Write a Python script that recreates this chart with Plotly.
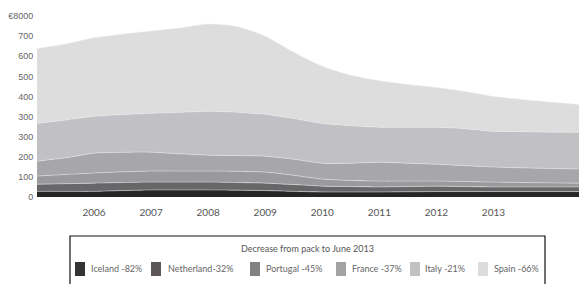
import plotly.graph_objects as go

# ---- data ----
years = [2005.0, 2005.5, 2006.0, 2006.5, 2007.0, 2007.5, 2008.0, 2008.5, 2009.0, 2009.5,
         2010.0, 2010.5, 2011.0, 2011.5, 2012.0, 2012.5, 2013.0, 2013.5, 2014.5]
iceland = [28, 28, 28, 32, 35, 35, 35, 34, 32, 28, 25, 25, 25, 26, 27, 27, 27, 27, 27]
netherland = [36, 38, 41, 40, 39, 39, 39, 38, 37, 34, 29, 27, 25, 26, 27, 25, 23, 23, 23]
portugal = [40, 46, 50, 53, 55, 55, 55, 56, 55, 46, 35, 30, 29, 27, 25, 25, 24, 22, 19]
france = [74, 83, 99, 97, 94, 86, 79, 78, 79, 80, 79, 86, 94, 89, 84, 79, 75, 73, 70]
italy = [188, 188, 183, 188, 193, 206, 218, 216, 208, 202, 198, 187, 174, 179, 184, 184, 178, 180, 183]
spain = [372, 378, 391, 400, 409, 419, 434, 426, 389, 330, 284, 250, 231, 213, 198, 185, 173, 160, 138]

series_names = ["Iceland", "Netherland", "Portugal", "France", "Italy", "Spain"]
series_values = [iceland, netherland, portugal, france, italy, spain]
legend_labels = ["Iceland -82%", "Netherland-32%", "Portugal -45%", "France -37%", "Italy -21%", "Spain -66%"]
legend_title = "Decrease from pack to June 2013"

x_tickvals = [2006, 2007, 2008, 2009, 2010, 2011, 2012, 2013]
x_ticktext = ["2006", "2007", "2008", "2009", "2010", "2011", "2012", "2013"]
y_tickvals = [0, 100, 200, 300, 400, 500, 600, 700, 800, 900]
y_ticktext = ["0", "100", "200", "300", "300", "400", "500", "600", "700", "€8000"]

# ---- styles ----
area_colors = ["#262626", "#67676a", "#9a9a9c", "#a7a7ab", "#c1c1c5", "#dddddd"]
legend_colors = ["#333333", "#5b5759", "#828282", "#a2a2a2", "#c2c2c2", "#dcdcdc"]

W, H = 579, 284
ML, MR, MT, MB = 37, 0, 10, 87
PW, PH = W - ML - MR, H - MT - MB


def px(xp):
    return (xp - ML) / PW


def py(yp):
    return (H - MB - yp) / PH


fig = go.Figure()
for name, vals, col in zip(series_names, series_values, area_colors):
    fig.add_trace(go.Scatter(
        x=years, y=vals, name=name, stackgroup="one", mode="lines",
        line=dict(width=0.8, color="rgba(235,235,235,0.6)", shape="spline", smoothing=0.6),
        fillcolor=col, showlegend=False, hoverinfo="skip"))

shapes = []
annotations = []
# legend box (cut off at bottom as in reference)
shapes.append(dict(type="rect", xref="paper", yref="paper",
                   x0=px(70), x1=px(545), y0=py(300), y1=py(236),
                   line=dict(color="#111111", width=1.2), fillcolor="rgba(0,0,0,0)"))
annotations.append(dict(text=legend_title, xref="paper", yref="paper", x=px(307), y=py(248),
                        showarrow=False, xanchor="center", yanchor="middle",
                        font=dict(family="Lato, Open Sans, sans-serif", size=9, color="#555555")))
sq_x = [75, 151, 250, 336, 410, 478]
tx_x = [89, 166, 264, 350, 423, 492]
for lab, col, sx, tx in zip(legend_labels, legend_colors, sq_x, tx_x):
    shapes.append(dict(type="rect", xref="paper", yref="paper",
                       x0=px(sx), x1=px(sx + 10), y0=py(276), y1=py(262),
                       line=dict(width=0), fillcolor=col))
    annotations.append(dict(text=lab, xref="paper", yref="paper", x=px(tx), y=py(268),
                            showarrow=False, xanchor="left", yanchor="middle",
                            font=dict(family="Lato, Open Sans, sans-serif", size=9, color="#666666")))

fig.update_layout(
    width=W, height=H,
    margin=dict(l=ML, r=MR, t=MT, b=MB),
    paper_bgcolor="white", plot_bgcolor="white",
    showlegend=False,
    shapes=shapes, annotations=annotations,
    xaxis=dict(range=[2005, 2014.5], tickvals=x_tickvals, ticktext=x_ticktext,
               showgrid=False, zeroline=False, showline=False,
               ticks="outside", ticklen=6, tickcolor="rgba(0,0,0,0)",
               tickfont=dict(family="Lato, Open Sans, sans-serif", size=10, color="#555555")),
    yaxis=dict(range=[0, 930], tickvals=y_tickvals, ticktext=y_ticktext,
               showgrid=False, zeroline=False, showline=False,
               ticks="outside", ticklen=1, tickcolor="rgba(0,0,0,0)",
               tickfont=dict(family="Liberation Sans, Arial, sans-serif", size=9, color="#666666")),
)

fig.write_html("out.html", config={"displayModeBar": False},
               post_script="document.body.style.margin='0';document.body.style.overflow='hidden';")
